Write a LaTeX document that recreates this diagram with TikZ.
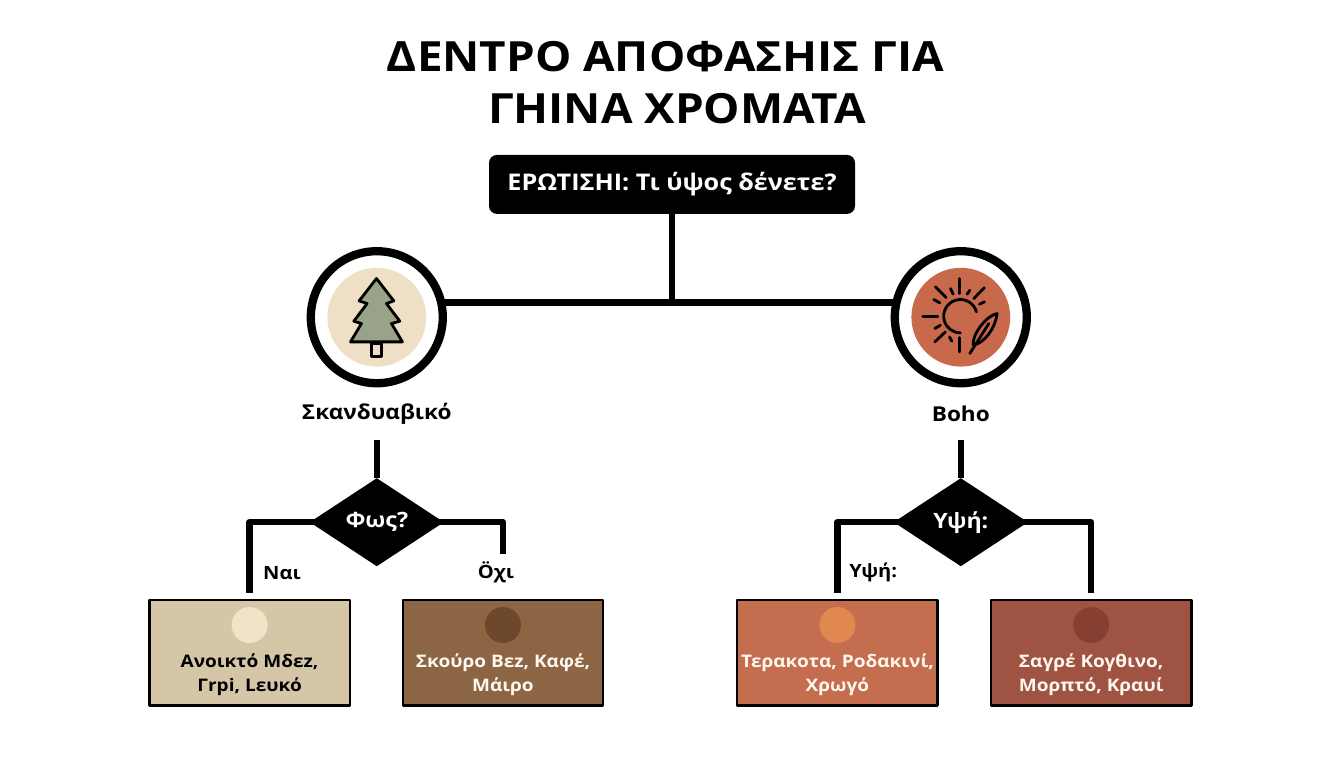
\documentclass[tikz,border=0pt]{standalone}
\usepackage{fontspec}
\setmainfont{Open Sans}[FakeStretch=1.1]
\usetikzlibrary{shapes, positioning}
\definecolor{sandbox}{HTML}{D6C6A8}
\definecolor{sanddot}{HTML}{F1E3C8}
\definecolor{brownbox}{HTML}{8B6544}
\definecolor{browndot}{HTML}{6E482C}
\definecolor{terrabox}{HTML}{C56E4F}
\definecolor{terradot}{HTML}{E08850}
\definecolor{winebox}{HTML}{9F5343}
\definecolor{winedot}{HTML}{873F31}
\definecolor{paledisc}{HTML}{EFDFC6}
\definecolor{rustdisc}{HTML}{C8694B}
\definecolor{treegreen}{HTML}{98A387}
\definecolor{paper}{HTML}{FFF8EE}

\begin{document}
\begin{tikzpicture}[line join=round, outer sep=0pt]
 \tikzstyle{wire} = [draw=black, line width=4.6pt]
 \tikzstyle{heading} = [font=\fontsize{29.6}{35}\selectfont\bfseries, inner sep=0pt]
 \tikzstyle{question} = [rectangle, rounded corners=0.2cm, fill=black, text=white, minimum width=9.15cm, minimum height=1.475cm, font=\fontsize{16.3}{20}\selectfont\bfseries]
 \tikzstyle{ring} = [circle, draw=black, fill=white, line width=5.9pt, minimum size=3.3cm, inner sep=0pt]
 \tikzstyle{disc} = [circle, minimum size=2.47cm, inner sep=0pt]
 \tikzstyle{stylename} = [minimum height=1.3cm, inner sep=0pt, font=\fontsize{14.6}{18}\selectfont\bfseries]
 \tikzstyle{choice} = [diamond, fill=black, text=white, minimum width=3.35cm, minimum height=2.2cm, inner sep=0pt, font=\fontsize{15}{18}\selectfont\bfseries]
 \tikzstyle{answer} = [inner sep=0pt, font=\fontsize{13}{16}\selectfont\bfseries]
 \tikzstyle{colorbox} = [rectangle, draw=black, line width=1.8pt, minimum width=5.01cm, minimum height=2.64cm]
 \tikzstyle{colordot} = [circle, minimum size=0.9cm, inner sep=0pt]
 \tikzstyle{colortext} = [align=center, inner sep=0pt, font=\fontsize{12.3}{17}\selectfont\bfseries]
 \tikzstyle{icon} = [draw=black, line width=2pt, line cap=round]

 \useasboundingbox (0,0) rectangle (33.6,-19.2);

 \node[heading] (titleA) at (16.64,-1.42) {ΔΕΝΤΡΟ ΑΠΟΦΑΣΗΙΣ ΓΙΑ};
 \node[heading] (titleB) at (16.93,-2.72) {ΓΗΙΝΑ ΧΡΟΜΑΤΑ};

 \node[question] (Q) at (16.8,-4.61) {\raisebox{-1.2pt}{ΕΡΩΤΙΣΗΙ: Τι ύψος δένετε?}};

 \node[ring] (ringL) at (9.42,-7.93) {};
 \node[ring] (ringR) [right=11.3 cm of ringL] {};
 \node[disc, fill=paledisc] (discL) at (ringL.center) {};
 \node[disc, fill=rustdisc] (discR) at (ringR.center) {};

 \node[stylename] (nameL) [below=0.125 cm of ringL] {\raisebox{-1pt}{Σκανδυαβικό}};
 \node[stylename] (nameR) [below=0.125 cm of ringR] {Boho};

 \node[choice] (choiceL) [below=0.95 cm of nameL] {Φως?};
 \node[choice] (choiceR) [below=0.95 cm of nameR] {Υψή:};

 \node[colorbox, fill=sandbox] (boxA) at (6.24,-16.32) {};
 \node[colorbox, fill=brownbox] (boxB) [right=1.325 cm of boxA] {};
 \node[colorbox, fill=terrabox] (boxC) [right=3.35 cm of boxB] {};
 \node[colorbox, fill=winebox] (boxD) [right=1.335 cm of boxC] {};

 \node[colordot, fill=sanddot] (dotA) [below=0.175 cm of boxA.north] {};
 \node[colordot, fill=browndot] (dotB) [below=0.175 cm of boxB.north] {};
 \node[colordot, fill=terradot] (dotC) [below=0.175 cm of boxC.north] {};
 \node[colordot, fill=winedot] (dotD) [below=0.175 cm of boxD.north] {};

 \node[colortext] (textA) [below=0.27 cm of dotA] {Ανοικτό Μδεz,\\Γrpi, Lευκό};
 \node[colortext, text=paper] (textB) [below=0.27 cm of dotB] {Σκούρο Βεz, Καφέ,\\Μάιρο};
 \node[colortext, text=paper] (textC) [below=0.27 cm of dotC] {Τερακοτα, Ροδακινί,\\Χρωγό};
 \node[colortext, text=paper] (textD) [below=0.27 cm of dotD] {Σαγρέ Κογθινο,\\Μορπτό, Κραυί};

 \node[answer] (yesL) at (7.05,-14.32) {Ναι};
 \node[answer] (noL) at (12.4,-14.32) {Öχι};
 \node[answer] (yesR) at (21.83,-14.32) {Υψή:};

 % connectors
 \path[wire]
	(ringL.13) edge (ringR.167)
	(Q.south) edge (Q.south |- ringL.13)
	(nameL.south) edge (choiceL.north)
	(nameR.south) edge (choiceR.north);
 \draw[wire, shorten <=-0.2cm, shorten >=0.175cm] (choiceL.west) -| (boxA.north);
 \draw[wire, shorten <=-0.2cm, shorten >=1.15cm] (choiceL.east) -| (boxB.north);
 \draw[wire, shorten <=-0.2cm, shorten >=0.175cm] (choiceR.west) -| (boxC.north);
 \draw[wire, shorten <=-0.2cm, shorten >=0.175cm] (choiceR.east) -| (boxD.north);

 % tree
 \begin{scope}[shift={(discL.center)}, x=0.00833cm, y=0.00833cm]
   \draw[icon, fill=paledisc] (-16,-79) rectangle (14,-119);
   \draw[icon, fill=treegreen] (-1,116) -- (51,49) -- (29,41) -- (69,-12) -- (44,-19) -- (77,-74)
	-- (-79,-74) -- (-46,-19) -- (-69,-12) -- (-29,41) -- (-53,49) -- cycle;
 \end{scope}

 % sun and feather
 \begin{scope}[shift={(discR.center)}, x=0.00833cm, y=0.00833cm]
   \draw[icon] (47,16) arc[start angle=15, end angle=270, radius=0.417cm];
   \foreach \xa/\ya/\xb/\yb in {-3/116/-3/71, 71/89/39/56, 27/81/19/69, 71/46/56/39, -114/1/-69/1, -76/91/-44/59,
	-31/86/-23/69, -81/53/-63/43, -78/-34/-61/-24, -78/-74/-46/-44, -34/-59/-27/-72, -3/-61/-3/-104}
     \draw[icon] (\xa,\ya) -- (\xb,\yb);
   \draw[icon] (37,-84) .. controls (34,-49) and (79,6) .. (109,11)
	.. controls (104,-34) and (69,-79) .. (37,-84);
   \draw[icon] (27,-109) -- (84,-19);
 \end{scope}
\end{tikzpicture}
\end{document}
